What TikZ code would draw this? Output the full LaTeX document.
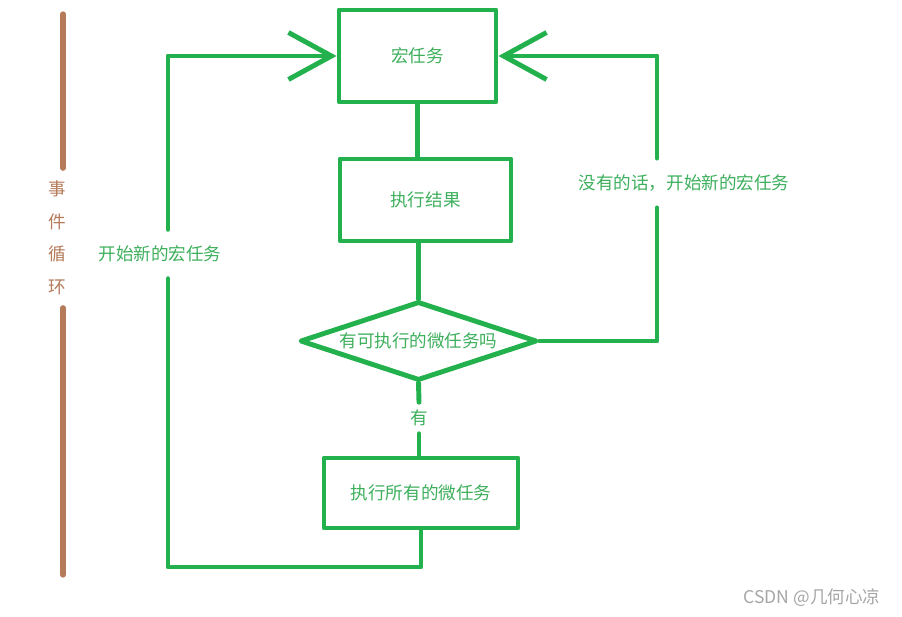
\documentclass[tikz,border=0pt]{standalone}
\usepackage{fontspec}
\setmainfont{Noto Sans CJK SC}
\usepackage{tikz}
\usetikzlibrary{arrows.meta, positioning, calc, shapes.geometric}
\definecolor{flowgreen}{HTML}{22B14C}
\definecolor{textgreen}{HTML}{3DAF5C}
\definecolor{loopbrown}{HTML}{B47A5A}

\begin{document}
\begin{tikzpicture}[
  x=0.02cm, y=-0.02cm,
  line width=2.8pt, line cap=round, line join=round,
  stepbox/.style={draw=flowgreen, rectangle, inner sep=0pt,
                  font=\fontsize{10}{12}\selectfont, text=textgreen},
  ask/.style={draw=flowgreen, diamond, aspect=3, inner sep=0pt,
              minimum width=4.74cm, minimum height=1.58cm,
              font=\fontsize{10}{12}\selectfont, text=textgreen},
  tag/.style={font=\fontsize{10}{12}\selectfont, text=textgreen, inner sep=3pt},
  flow/.style={draw=flowgreen},
  back/.style={draw=flowgreen, -{Straight Barb[length=8.6mm, width=9.4mm]}}
]
  \useasboundingbox (0,0) rectangle (902,617);

  \node[stepbox, minimum width=3.14cm, minimum height=1.84cm] (macro) at (417.5,56) {宏任务};
  \node[stepbox, minimum width=3.42cm, minimum height=1.64cm] (result) at (425.5,200) {执行结果};
  \node[ask] (check) at (418.5,341) {有可执行的微任务吗};
  \node[tag] (yes) at (419,418) {有};
  \node[stepbox, minimum width=3.88cm, minimum height=1.4cm] (micro) at (421,493) {执行所有的微任务};

  \node[tag, inner sep=8pt] (restart) at (160,254) {开始新的宏任务};
  \node[tag, inner sep=8pt] (norun) at (684,183) {没有的话，开始新的宏任务};

  \node[text=loopbrown, font=\fontsize{10}{12}\selectfont, align=center, inner sep=6pt]
    (loop) at (57,238) {事\\[6.5pt]件\\[6.5pt]循\\[6.5pt]环};
  \coordinate (looptop) at (63,14);
  \coordinate (loopbot) at (63,575);
  \draw[loopbrown, line width=3pt] (looptop) -- (looptop |- loop.north);
  \draw[loopbrown, line width=3pt] (loop.south -| loopbot) -- (loopbot);

  \coordinate (bl) at (168,567);
  \coordinate (tr) at (657,53);

  \draw[flow] (macro.south) -- (macro.south |- result.north);
  \draw[flow] (check.north |- result.south) -- (check.north);
  \draw[flow] (check.south) -- (yes.north);
  \draw[flow] (yes.south) -- (yes.south |- micro.north);

  \draw[flow] (micro.south) |- (bl) -- (restart.south -| bl);
  \draw[back] (restart.north -| bl) |- (macro.west);

  \draw[flow] (check.east) -| (tr |- norun.south);
  \draw[back] (tr |- norun.north) |- (macro.east);

  \node[text=gray!70, font=\fontsize{10}{12}\selectfont] (mark) at (812,598) {CSDN @几何心凉};
\end{tikzpicture}
\end{document}
